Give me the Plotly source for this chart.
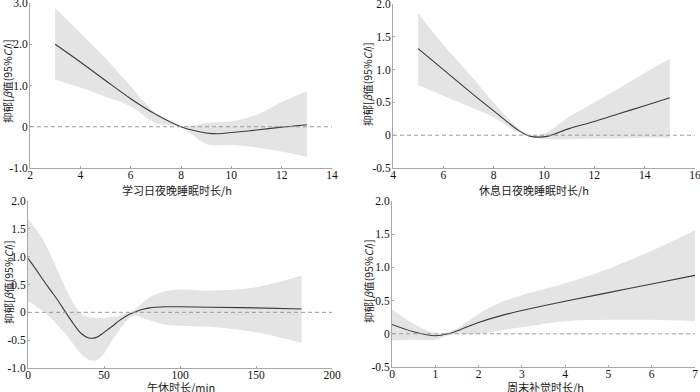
import plotly.graph_objects as go

# Panel 1: 学习日夜晚睡眠时长
p1_x = [3, 4, 5, 6, 7, 8, 9, 9.5, 10, 11, 12, 13]
p1_y = [2.0, 1.57, 1.12, 0.68, 0.3, 0.0, -0.15, -0.17, -0.14, -0.08, -0.01, 0.05]
p1_up = [2.87, 2.27, 1.66, 0.98, 0.33, 0.01, 0.09, 0.11, 0.13, 0.29, 0.6, 0.86]
p1_lo = [1.14, 0.95, 0.73, 0.5, 0.09, -0.01, -0.42, -0.45, -0.44, -0.5, -0.6, -0.73]

# Panel 2: 休息日夜晚睡眠时长
p2_x = [5, 6, 7, 8, 9, 9.4, 9.8, 10.2, 11, 12, 13, 14, 15]
p2_y = [1.32, 1.0, 0.68, 0.37, 0.07, -0.01, -0.03, -0.01, 0.1, 0.21, 0.33, 0.45, 0.57]
p2_up = [1.86, 1.38, 0.95, 0.5, 0.1, 0.0, 0.0, 0.06, 0.28, 0.5, 0.72, 0.95, 1.16]
p2_lo = [0.76, 0.6, 0.44, 0.27, 0.04, -0.02, -0.05, -0.06, -0.06, -0.05, -0.05, -0.04, -0.04]

# Panel 3: 午休时长
p3_x = [0, 5, 10, 15, 20, 25, 30, 35, 40, 45, 50, 55, 60, 65, 70, 75, 80, 90, 100, 120, 150, 180]
p3_y = [0.97, 0.78, 0.58, 0.39, 0.2, -0.01, -0.21, -0.38, -0.46, -0.45, -0.36, -0.26, -0.15, -0.06, 0.0, 0.05, 0.08, 0.1, 0.1, 0.09, 0.08, 0.06]
p3_up = [1.68, 1.5, 1.3, 1.02, 0.72, 0.42, 0.15, -0.03, -0.09, -0.1, -0.1, -0.08, -0.06, -0.02, 0.05, 0.16, 0.27, 0.38, 0.41, 0.39, 0.45, 0.66]
p3_lo = [0.2, 0.12, 0.02, -0.1, -0.25, -0.4, -0.58, -0.75, -0.85, -0.86, -0.74, -0.52, -0.32, -0.15, -0.06, -0.1, -0.14, -0.22, -0.24, -0.26, -0.36, -0.55]

# Panel 4: 周末补觉时长
p4_x = [0, 0.5, 1, 1.3, 1.6, 2, 2.5, 3, 4, 5, 6, 7]
p4_y = [0.14, 0.03, -0.03, 0.0, 0.07, 0.17, 0.27, 0.35, 0.49, 0.62, 0.75, 0.88]
p4_up = [0.37, 0.15, 0.01, 0.02, 0.12, 0.3, 0.47, 0.58, 0.76, 0.98, 1.25, 1.56]
p4_lo = [-0.1, -0.09, -0.09, -0.02, 0.0, 0.0, 0.05, 0.1, 0.19, 0.21, 0.21, 0.19]

x_titles = ["学习日夜晚睡眠时长/h", "休息日夜晚睡眠时长/h", "午休时长/min", "周末补觉时长/h"]
y_title = "抑郁[<i>β</i>值(95%<i>CI</i>)]"

x_ranges = [[2, 14], [4, 16], [0, 200], [0, 7]]
x_ticks = [[2, 4, 6, 8, 10, 12, 14], [4, 6, 8, 10, 12, 14, 16],
           [0, 50, 100, 150, 200], [0, 1, 2, 3, 4, 5, 6, 7]]
y_ranges = [[-1, 3], [-0.5, 2], [-1, 2], [-0.5, 2]]
y_tickvals = [[-1, 0, 1, 2, 3], [-0.5, 0, 0.5, 1, 1.5, 2],
              [-1, -0.5, 0, 0.5, 1, 1.5, 2], [-0.5, 0, 0.5, 1, 1.5, 2]]
y_ticktext = [["-1.0", "0", "1.0", "2.0", "3.0"], ["-0.5", "0", "0.5", "1.0", "1.5", "2.0"],
              ["-1.0", "-0.5", "0", "0.5", "1.0", "1.5", "2.0"], ["-0.5", "0", "0.5", "1.0", "1.5", "2.0"]]

W, H = 700, 392
# pixel boxes (left, right, top, bottom)
boxes = [(30, 332, 3, 168), (393, 695, 4, 168), (28, 332, 201, 368), (392, 695, 201, 367)]
ytitle_pos = [(8, 82), (367, 84), (8, 283), (368, 282)]
xtitle_pos = [(177, 190), (534, 190), (181, 387), (545, 387)]

panels = [(p1_x, p1_y, p1_up, p1_lo), (p2_x, p2_y, p2_up, p2_lo),
          (p3_x, p3_y, p3_up, p3_lo), (p4_x, p4_y, p4_up, p4_lo)]

fig = go.Figure()
axis_col = "#a8a8a8"
serif = "Liberation Serif, Times New Roman, serif"
cjk = "Noto Sans CJK SC"
annotations = []
shapes = []

for i, (px, py, pu, pl) in enumerate(panels):
    n = i + 1
    xa = "x" if n == 1 else f"x{n}"
    ya = "y" if n == 1 else f"y{n}"
    fig.add_trace(go.Scatter(x=px, y=pl, xaxis=xa, yaxis=ya, mode="lines",
                             line=dict(width=0, shape="spline", smoothing=1.0, color="rgba(0,0,0,0)"),
                             showlegend=False, hoverinfo="skip"))
    fig.add_trace(go.Scatter(x=px, y=pu, xaxis=xa, yaxis=ya, mode="lines", fill="tonexty",
                             fillcolor="#e4e4e4",
                             line=dict(width=0, shape="spline", smoothing=1.0, color="rgba(0,0,0,0)"),
                             showlegend=False, hoverinfo="skip"))
    fig.add_trace(go.Scatter(x=px, y=py, xaxis=xa, yaxis=ya, mode="lines",
                             line=dict(width=1.1, shape="spline", smoothing=1.0, color="#3a3a3a"),
                             showlegend=False))
    l, r, t, b = boxes[i]
    dom_x = [l / W, r / W]
    dom_y = [1 - b / H, 1 - t / H]
    common = dict(showgrid=False, zeroline=False, showline=True, linecolor=axis_col, linewidth=1,
                  ticks="inside", ticklen=2, tickcolor=axis_col, automargin=False,
                  ticklabeloverflow="allow",
                  tickfont=dict(family=serif, size=11.5, color="#111"))
    fig.update_layout(**{
        ("xaxis" if n == 1 else f"xaxis{n}"): dict(domain=dom_x, range=x_ranges[i], tickvals=x_ticks[i],
                                                     anchor=ya, ticklabelstandoff=-4, **common),
        ("yaxis" if n == 1 else f"yaxis{n}"): dict(domain=dom_y, range=y_ranges[i], tickvals=y_tickvals[i],
                                                     ticktext=y_ticktext[i], anchor=xa,
                                                     ticklabelstandoff=-1, **common),
    })
    shapes.append(dict(type="line", xref=xa, yref=ya, x0=x_ranges[i][0], x1=x_ranges[i][1], y0=0, y1=0,
                       line=dict(color="#9a9a9a", width=1, dash="4px,3px")))
    tx, ty = ytitle_pos[i]
    annotations.append(dict(text=y_title, x=tx / W, y=1 - ty / H, xref="paper", yref="paper",
                            textangle=-90, showarrow=False, xanchor="center", yanchor="middle",
                            font=dict(family=cjk, size=10.5, color="#222")))
    tx, ty = xtitle_pos[i]
    annotations.append(dict(text=x_titles[i], x=tx / W, y=1 - ty / H, xref="paper", yref="paper",
                            showarrow=False, xanchor="center", yanchor="middle",
                            font=dict(family=cjk, size=11, color="#222")))

fig.update_layout(width=W, height=H, margin=dict(l=0, r=0, t=0, b=0, autoexpand=False),
                  paper_bgcolor="white", plot_bgcolor="white",
                  annotations=annotations, shapes=shapes)

fig.write_html("out.html", config={"displayModeBar": False},
               post_script="document.body.style.margin='0';document.body.style.overflow='hidden';")
